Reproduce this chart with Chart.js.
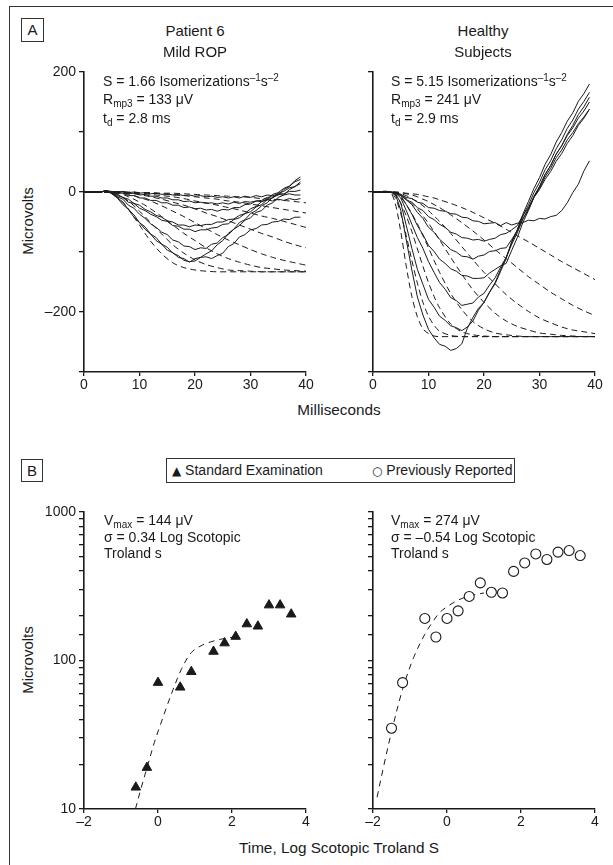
<!DOCTYPE html>
<html>
<head>
<meta charset="utf-8">
<script src="https://cdn.jsdelivr.net/npm/chart.js@4.4.0/dist/chart.umd.min.js"></script>
<style>
  html,body{margin:0;padding:0;background:#fff;}
  #fig{position:relative;width:613px;height:865px;overflow:hidden;background:#fff;
       font-family:'Liberation Sans',Arial,Helvetica,sans-serif;color:#1a1a1a;}
  #frame{position:absolute;left:9px;top:6px;width:720px;height:900px;border:1.5px solid #333;box-sizing:border-box;}
  canvas{position:absolute;}
  .t{position:absolute;font-size:14px;line-height:16px;white-space:nowrap;}
  .title{position:absolute;font-size:15px;line-height:18px;white-space:nowrap;transform:translateX(-50%);}
  .box{position:absolute;border:1px solid #333;box-sizing:border-box;font-size:15px;text-align:center;background:#fff;}
  .ylab{position:absolute;font-size:15px;line-height:18px;white-space:nowrap;transform:translate(-50%,-50%) rotate(-90deg);}
  .xlab{position:absolute;font-size:15.3px;line-height:18px;white-space:nowrap;transform:translate(-50%,-50%);}
  sub{font-size:10px;vertical-align:-3px;line-height:0;}
  sup{font-size:10px;vertical-align:5px;line-height:0;}
</style>
</head>
<body>
<div id="fig">
  <div id="frame"></div>
  <canvas id="cA1" width="280" height="340" style="left:40px;top:60px;width:280px;height:340px"></canvas>
  <canvas id="cA2" width="280" height="340" style="left:329px;top:60px;width:280px;height:340px"></canvas>
  <canvas id="cB1" width="280" height="337" style="left:40px;top:500px;width:280px;height:337px"></canvas>
  <canvas id="cB2" width="280" height="337" style="left:329px;top:500px;width:280px;height:337px"></canvas>

  <div class="box" style="left:21px;top:18px;width:23px;height:24px;line-height:22px;">A</div>
  <div class="title" style="left:195px;top:22px;">Patient 6</div>
  <div class="title" style="left:195px;top:43px;">Mild ROP</div>
  <div class="title" style="left:483px;top:22px;">Healthy</div>
  <div class="title" style="left:483px;top:43px;">Subjects</div>

  <div class="t" style="left:103px;top:73px;">S = 1.66 Isomerizations<sup>–1</sup>s<sup>–2</sup></div>
  <div class="t" style="left:103px;top:91px;">R<sub>mp3</sub> = 133 μV</div>
  <div class="t" style="left:103px;top:110px;">t<sub>d</sub> = 2.8 ms</div>

  <div class="t" style="left:391px;top:73px;">S = 5.15 Isomerizations<sup>–1</sup>s<sup>–2</sup></div>
  <div class="t" style="left:391px;top:91px;">R<sub>mp3</sub> = 241 μV</div>
  <div class="t" style="left:391px;top:110px;">t<sub>d</sub> = 2.9 ms</div>

  <div class="ylab" style="left:28px;top:221px;">Microvolts</div>
  <div class="xlab" style="left:339px;top:410px;">Milliseconds</div>

  <div class="box" style="left:21px;top:459px;width:22px;height:23px;line-height:21px;">B</div>
  <div class="box" style="left:166px;top:458px;width:349px;height:25px;"></div>
  <div class="t" style="left:172px;top:462px;font-size:14px;"><span style="font-family:'DejaVu Sans';font-size:12px;">▲</span> Standard Examination</div>
  <div class="t" style="left:372px;top:462px;font-size:14px;"><span style="font-family:'DejaVu Sans';font-size:12px;">○</span> Previously Reported</div>

  <div class="t" style="left:104px;top:512px;">V<sub>max</sub> = 144 μV</div>
  <div class="t" style="left:104px;top:529px;">σ = 0.34 Log Scotopic</div>
  <div class="t" style="left:104px;top:545px;">Troland s</div>

  <div class="t" style="left:391px;top:512px;">V<sub>max</sub> = 274 μV</div>
  <div class="t" style="left:391px;top:529px;">σ = –0.54 Log Scotopic</div>
  <div class="t" style="left:391px;top:545px;">Troland s</div>

  <div class="ylab" style="left:28px;top:660px;">Microvolts</div>
  <div class="xlab" style="left:339px;top:848px;">Time, Log Scotopic Troland S</div>
</div>

<script>
// ---------------- DATA ----------------
// Panel A: recorded a-wave traces, sampled every 1 ms (time in ms, values in microvolts)
const traceTimesMs = [0,1,2,3,4,5,6,7,8,9,10,11,12,13,14,15,16,17,18,19,20,21,22,23,24,25,26,27,28,29,30,31,32,33,34,35,36,37,38,39];

const patientTrace1 = [0,0,0,0,2,-2,-9,-17,-29,-38,-51,-58,-70,-76,-87,-92,-102,-106,-114,-116,-115,-109,-108,-111,-106,-102,-91,-86,-75,-71,-63,-61,-55,-54,-50,-49,-45,-46,-42,-42];
const patientTrace2 = [0,0,0,0,2,-3,-10,-21,-29,-42,-51,-62,-70,-81,-87,-97,-101,-109,-111,-117,-111,-109,-103,-98,-88,-81,-69,-62,-51,-46,-36,-31,-23,-18,-9,-5,4,9,19,25];
const patientTrace3 = [0,0,0,0,2,-2,-8,-12,-22,-27,-37,-44,-53,-59,-67,-71,-80,-83,-90,-91,-96,-93,-94,-87,-85,-76,-71,-62,-56,-47,-43,-34,-31,-22,-18,-9,-5,4,9,17];
const patientTrace4 = [0,0,0,0,2,-1,-6,-9,-17,-19,-27,-31,-37,-41,-47,-49,-56,-57,-62,-62,-66,-63,-63,-60,-59,-54,-53,-46,-43,-36,-33,-25,-21,-13,-10,-2,1,7,9,14];
const patientTrace5 = [0,0,0,0,2,-1,-4,-9,-12,-19,-22,-29,-33,-39,-42,-48,-50,-55,-55,-58,-55,-56,-54,-54,-50,-50,-46,-45,-39,-36,-28,-24,-16,-12,-4,-1,6,10,17,21];
const patientTrace6 = [0,0,0,0,2,0,-2,-2,-6,-6,-10,-10,-14,-14,-18,-18,-22,-22,-26,-25,-28,-27,-30,-29,-32,-29,-30,-26,-26,-21,-20,-15,-14,-9,-8,-3,-3,1,1,3];
const patientTrace7 = [0,0,0,0,2,0,-1,0,-3,-2,-5,-4,-7,-7,-10,-10,-13,-13,-16,-15,-18,-17,-19,-18,-20,-18,-20,-17,-19,-16,-17,-15,-16,-13,-15,-12,-14,-11,-13,-11];
const patientTrace8 = [0,0,0,0,2,1,0,1,-1,0,-2,-1,-3,-2,-4,-3,-5,-4,-6,-5,-7,-6,-8,-7,-9,-8,-10,-8,-10,-7,-9,-6,-8,-5,-6,-4,-5,-3,-5,-5];

const healthyTrace1 = [0,0,0,0,-3,-30,-80,-130,-175,-205,-229,-243,-254,-257,-264,-261,-253,-227,-209,-194,-184,-167,-153,-132,-111,-82,-63,-37,-16,6,24,46,62,83,99,118,132,151,164,180];
const healthyTrace2 = [0,0,0,0,-2,-18,-56,-94,-129,-154,-179,-192,-207,-214,-223,-226,-231,-225,-215,-197,-184,-167,-151,-129,-109,-84,-63,-40,-22,-1,16,37,52,72,87,106,120,138,151,166];
const healthyTrace3 = [0,0,0,0,-1,-10,-31,-54,-76,-94,-116,-134,-151,-162,-176,-181,-189,-187,-185,-175,-169,-155,-143,-125,-109,-87,-68,-45,-28,-7,9,29,44,63,77,96,111,129,142,158];
const healthyTrace4 = [0,0,0,0,-1,-6,-21,-37,-56,-71,-89,-99,-112,-119,-128,-132,-139,-140,-144,-144,-143,-135,-129,-123,-119,-97,-76,-51,-31,-9,9,29,44,63,77,94,107,123,135,150];
const healthyTrace5 = [0,0,0,0,-1,-4,-13,-21,-34,-44,-59,-67,-79,-87,-96,-100,-107,-108,-112,-107,-105,-99,-98,-94,-93,-79,-65,-45,-29,-9,6,25,39,57,70,87,99,114,125,138];
const healthyTrace6 = [0,0,0,0,-2,-6,-13,-17,-26,-31,-41,-46,-54,-59,-67,-70,-76,-77,-80,-79,-82,-79,-77,-71,-69,-63,-56,-39,-26,-9,4,21,34,51,64,81,94,111,123,138];
const healthyTrace7 = [0,0,0,0,-1,-4,-9,-11,-17,-19,-26,-27,-31,-32,-36,-37,-42,-43,-48,-49,-53,-52,-51,-56,-51,-55,-52,-51,-47,-48,-44,-45,-41,-39,-31,-18,-1,13,35,52];

// Panel A: model fits (dashed), sampled at these times (ms)
const fitTimesMs = [0,3,4,5,6,7,8,9,10,11,12,14,16,18,20,22,24,26,28,30,32,34,36,38,40];

const patientFit1 = [0,0,0,-2,-8,-17,-28,-42,-55,-69,-82,-103,-118,-126,-130,-132,-133,-133,-133,-133,-133,-133,-133,-133,-133];
const patientFit2 = [0,0,0,-1,-4,-9,-15,-23,-32,-41,-51,-70,-88,-102,-113,-121,-126,-130,-131,-132,-133,-133,-133,-133,-133];
const patientFit3 = [0,0,0,0,-2,-4,-8,-12,-17,-22,-28,-41,-55,-69,-81,-93,-103,-111,-117,-122,-126,-128,-130,-131,-132];
const patientFit4 = [0,0,0,0,-1,-2,-4,-6,-9,-12,-15,-23,-32,-41,-51,-61,-71,-80,-88,-96,-103,-109,-114,-118,-122];
const patientFit5 = [0,0,0,0,0,-1,-2,-3,-4,-6,-8,-12,-17,-22,-28,-35,-41,-48,-55,-62,-69,-75,-82,-88,-93];
const patientFit6 = [0,0,0,0,0,-1,-1,-2,-2,-3,-4,-6,-8,-11,-15,-18,-22,-26,-30,-35,-40,-44,-49,-54,-59];
const patientFit7 = [0,0,0,0,0,0,-1,-1,-2,-2,-2,-3,-5,-6,-8,-10,-12,-15,-17,-20,-23,-26,-29,-32,-35];
const patientFit8 = [0,0,0,0,0,0,0,0,-1,-1,-1,-2,-2,-3,-4,-5,-6,-7,-8,-9,-11,-12,-14,-16,-18];

const healthyFit1 = [0,0,-19,-66,-124,-174,-208,-228,-236,-240,-241,-241,-241,-241,-241,-241,-241,-241,-241,-241,-241,-241,-241,-241,-241];
const healthyFit2 = [0,0,-9,-36,-73,-114,-152,-184,-207,-222,-232,-239,-241,-241,-241,-241,-241,-241,-241,-241,-241,-241,-241,-241,-241];
const healthyFit3 = [0,0,-5,-19,-40,-66,-95,-124,-151,-174,-193,-220,-233,-238,-240,-241,-241,-241,-241,-241,-241,-241,-241,-241,-241];
const healthyFit4 = [0,0,-2,-9,-21,-36,-53,-73,-93,-114,-134,-169,-196,-216,-228,-235,-238,-240,-241,-241,-241,-241,-241,-241,-241];
const healthyFit5 = [0,0,-1,-5,-11,-19,-28,-40,-52,-66,-80,-109,-137,-163,-184,-202,-215,-224,-230,-235,-237,-239,-240,-241,-241];
const healthyFit6 = [0,0,-1,-3,-6,-11,-16,-23,-31,-40,-49,-69,-91,-113,-134,-153,-171,-186,-199,-210,-218,-225,-230,-233,-236];
const healthyFit7 = [0,0,0,-1,-3,-5,-8,-12,-16,-21,-26,-38,-51,-65,-80,-96,-111,-126,-141,-154,-167,-178,-189,-198,-206];
const healthyFit8 = [0,0,0,-1,-2,-3,-4,-6,-8,-10,-13,-19,-26,-34,-43,-52,-62,-73,-83,-94,-105,-116,-126,-136,-146];

// Panel A axis ticks
const msTicks = [0,10,20,30,40];
const uvTicks = [-300,-200,-100,0,100,200];
const uvTickLabels = ['', '–200', '', '0', '', '200'];

// Panel B: amplitude vs log time
const standardLogTime = [-0.6,-0.3,0,0.6,0.9,1.5,1.8,2.1,2.4,2.7,3.0,3.3,3.6];
const standardMicrovolts = [14,19,71,66,84,115,131,145,176,170,236,236,205];
const previousLogTime = [-1.5,-1.2,-0.6,-0.3,0,0.3,0.6,0.9,1.2,1.5,1.8,2.1,2.4,2.7,3.0,3.3,3.6];
const previousMicrovolts = [35,71,192,144,192,216,270,333,288,285,398,454,522,479,537,550,509];

const standardFitLogTime = [-0.61,-0.45,-0.27,-0.1,0.05,0.25,0.41,0.63,0.9,1.2,1.49,1.75,2.05];
const standardFitMicrovolts = [10,14,20,28,36,50,64,87,113,127,135,140,144];
const previousFitLogTime = [-1.89,-1.7,-1.5,-1.2,-0.9,-0.6,-0.4,-0.2,0,0.3,0.6,1.0];
const previousFitMicrovolts = [12,20,33,64,105,150,180,210,230,255,272,285];

const logTimeTicks = [-2,0,2,4];
const logTimeTickLabels = ['–2','0','2','4'];

// ---------------- RENDER ----------------
const FONT = "'Liberation Sans', Arial, Helvetica, sans-serif";
const INK = '#1a1a1a';

function pts(xs, ys){ return xs.map((x,i)=>({x:x, y:ys[i]})); }

function gridOpts(len){
  return {display:true, drawOnChartArea:false, drawTicks:true, tickLength:len, color:INK, lineWidth:1.3};
}
function borderOpts(){ return {display:true, color:INK, width:1.6}; }

function panelAChart(id, traces, fits, showYLabels){
  const ds = [];
  traces.forEach(tr => ds.push({data:pts(traceTimesMs, tr), borderColor:INK, borderWidth:1, pointRadius:0, fill:false, tension:0}));
  fits.forEach(f => ds.push({data:pts(fitTimesMs, f), borderColor:INK, borderWidth:1, borderDash:[6,4], pointRadius:0, fill:false, tension:0.3}));
  return new Chart(document.getElementById(id), {
    type:'line',
    data:{datasets:ds},
    options:{
      responsive:false, animation:false, events:[],
      layout:{padding:{top:12,right:14,left:0,bottom:0}},
      plugins:{legend:{display:false}, tooltip:{enabled:false}},
      scales:{
        x:{type:'linear', min:0, max:40,
           afterBuildTicks:(s)=>{ s.ticks = msTicks.map(v=>({value:v})); },
           afterFit:(s)=>{ s.height = 28; },
           ticks:{autoSkip:false, maxRotation:0, padding:1, color:INK, font:{family:FONT,size:14},
                  callback:(v)=>String(v)},
           grid:gridOpts(4), border:borderOpts()},
        y:{type:'linear', min:-300, max:200,
           afterBuildTicks:(s)=>{ s.ticks = uvTicks.map(v=>({value:v})); },
           afterFit:(s)=>{ s.width = 44; },
           ticks:{autoSkip:false, padding:3, color:INK, font:{family:FONT,size:14},
                  callback:(v)=>{ if(!showYLabels) return ''; const i = uvTicks.indexOf(v); return i>=0 ? uvTickLabels[i] : ''; }},
           grid:gridOpts(5), border:borderOpts()}
      }
    }
  });
}

function panelBChart(id, xs, ys, fx, fy, isTriangle, showYLabels){
  const pointSet = isTriangle ?
    {data:pts(xs, ys), pointStyle:'triangle', pointRadius:5.5, backgroundColor:INK, borderColor:INK, borderWidth:1, showLine:false} :
    {data:pts(xs, ys), pointStyle:'circle', pointRadius:5, backgroundColor:'#fff', borderColor:INK, borderWidth:1.1, showLine:false};
  const fitSet = {data:pts(fx, fy), showLine:true, borderColor:INK, borderWidth:1, borderDash:[6,5], pointRadius:0, fill:false, tension:0.35};
  return new Chart(document.getElementById(id), {
    type:'scatter',
    data:{datasets:[pointSet, fitSet]},
    options:{
      responsive:false, animation:false, events:[],
      layout:{padding:{top:12,right:14,left:0,bottom:0}},
      plugins:{legend:{display:false}, tooltip:{enabled:false}},
      scales:{
        x:{type:'linear', min:-2, max:4,
           afterBuildTicks:(s)=>{ s.ticks = logTimeTicks.map(v=>({value:v})); },
           afterFit:(s)=>{ s.height = 28; },
           ticks:{autoSkip:false, maxRotation:0, padding:1, color:INK, font:{family:FONT,size:14},
                  callback:(v)=>{ const i = logTimeTicks.indexOf(v); return i>=0 ? logTimeTickLabels[i] : ''; }},
           grid:gridOpts(4), border:borderOpts()},
        y:{type:'logarithmic', min:10, max:1000,
           afterFit:(s)=>{ s.width = 44; },
           ticks:{autoSkip:false, padding:3, color:INK, font:{family:FONT,size:14},
                  callback:(v)=>{ if(!showYLabels) return ''; const l = Math.log10(v); return Math.abs(l-Math.round(l))<1e-6 ? String(Math.round(v)) : ''; }},
           grid:gridOpts(5), border:borderOpts()}
      }
    }
  });
}

panelAChart('cA1',
  [patientTrace1,patientTrace2,patientTrace3,patientTrace4,patientTrace5,patientTrace6,patientTrace7,patientTrace8],
  [patientFit1,patientFit2,patientFit3,patientFit4,patientFit5,patientFit6,patientFit7,patientFit8], true);
panelAChart('cA2',
  [healthyTrace1,healthyTrace2,healthyTrace3,healthyTrace4,healthyTrace5,healthyTrace6,healthyTrace7],
  [healthyFit1,healthyFit2,healthyFit3,healthyFit4,healthyFit5,healthyFit6,healthyFit7,healthyFit8], false);
panelBChart('cB1', standardLogTime, standardMicrovolts, standardFitLogTime, standardFitMicrovolts, true, true);
panelBChart('cB2', previousLogTime, previousMicrovolts, previousFitLogTime, previousFitMicrovolts, false, false);
</script>
</body>
</html>
